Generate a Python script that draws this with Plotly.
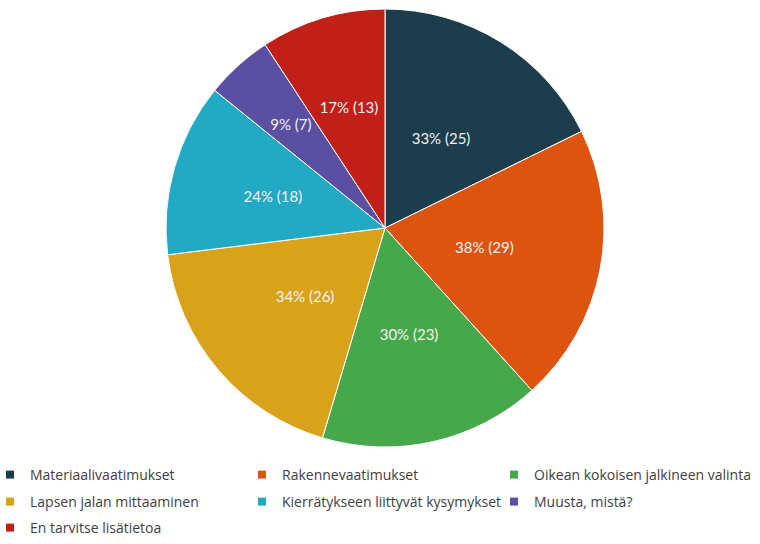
import plotly.graph_objects as go

# Survey answers: what extra information respondents want (multiple choice)
categories = [
    "Materiaalivaatimukset",
    "Rakennevaatimukset",
    "Oikean kokoisen jalkineen valinta",
    "Lapsen jalan mittaaminen",
    "Kierrätykseen liittyvät kysymykset",
    "Muusta, mistä?",
    "En tarvitse lisätietoa",
]
counts = [25, 29, 23, 26, 18, 7, 13]
percents = [33, 38, 30, 34, 24, 9, 17]
colors = ["#1c3d4b", "#dc540f", "#47a84b", "#d8a31a", "#22a9c4", "#5a4fa0", "#c21f18"]

# legend rows (indices into categories)
legend_rows = [[0, 1, 2], [3, 4, 5], [6]]

W, H = 760, 544
CX, CY, R = 385, 228, 219        # pie centre and radius in pixels
LABEL_R = 0.74 * R               # radius of the pie that carries the labels
label_font = "Lato, 'Open Sans', sans-serif"
legend_font = "'Open Sans', Lato, sans-serif"


def domain(radius):
    return dict(x=[(CX - radius) / W, (CX + radius) / W],
                y=[1 - (CY + radius) / H, 1 - (CY - radius) / H])


fig = go.Figure()

# coloured slices
fig.add_trace(go.Pie(
    labels=categories,
    values=counts,
    textinfo="none",
    marker=dict(colors=colors, line=dict(color="#ffffff", width=1)),
    sort=False,
    direction="clockwise",
    rotation=0,
    showlegend=False,
    hoverinfo="label+value",
    domain=domain(R),
))

# same slices on a smaller, transparent pie to keep the labels near the centre
fig.add_trace(go.Pie(
    labels=categories,
    values=counts,
    customdata=percents,
    texttemplate="%{customdata}% (%{value})",
    textposition="inside",
    insidetextorientation="horizontal",
    textfont=dict(family=label_font, size=15, color="#f2f2f2"),
    marker=dict(colors=["rgba(0,0,0,0)"] * len(counts), line=dict(width=0)),
    sort=False,
    direction="clockwise",
    rotation=0,
    showlegend=False,
    hoverinfo="skip",
    domain=domain(LABEL_R),
))

# legend entries, one legend per row
legend_names = ["legend", "legend2", "legend3"]
for r, idxs in enumerate(legend_rows):
    for i in idxs:
        fig.add_trace(go.Scatter(
            x=[None], y=[None],
            mode="markers",
            name=categories[i],
            marker=dict(symbol="square", size=8, color=colors[i]),
            legend=legend_names[r],
            showlegend=True,
            hoverinfo="skip",
        ))

legend_common = dict(
    orientation="h",
    xanchor="left",
    x=0,
    indentation=-10,
    entrywidth=217,
    entrywidthmode="pixels",
    font=dict(family=legend_font, size=14, color="#404040"),
    bgcolor="rgba(0,0,0,0)",
    itemclick=False,
    itemdoubleclick=False,
)

fig.update_layout(
    width=W,
    height=H,
    margin=dict(l=0, r=0, t=0, b=0),
    paper_bgcolor="white",
    plot_bgcolor="white",
    uniformtext=dict(minsize=15, mode="show"),
    xaxis=dict(visible=False),
    yaxis=dict(visible=False),
    legend=dict(legend_common, yanchor="middle", y=1 - 475 / H),
    legend2=dict(legend_common, yanchor="middle", y=1 - 502 / H),
    # last row sits on the bottom edge of the figure
    legend3=dict(legend_common, yanchor="bottom", y=0),
)

fig.write_html("out.html")
